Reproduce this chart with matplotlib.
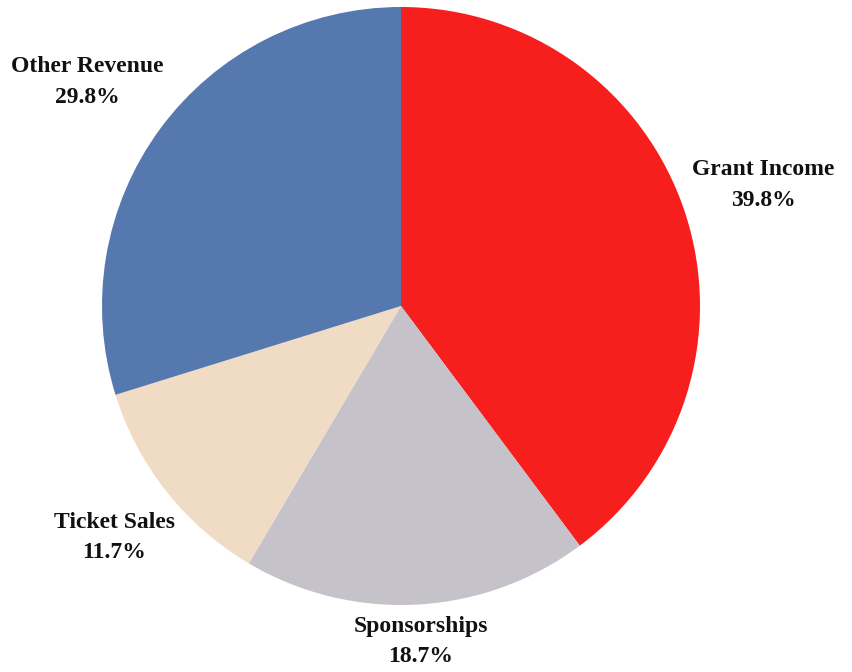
import numpy as np
import matplotlib.pyplot as plt

labels = ['Grant Income', 'Sponsorships', 'Ticket Sales', 'Other Revenue']
shares = [39.8, 18.7, 11.7, 29.8]
colors = ['#F71E1E', '#C6C2CA', '#F0DCC5', '#5578AE']

W, H = 853, 672
cx, cy, r = 401, 306, 299

fig = plt.figure(figsize=(W / 100, H / 100), dpi=100)
ax = fig.add_axes([0, 0, 1, 1])

wedges, _ = ax.pie(shares, colors=colors, startangle=90, counterclock=False,
                   radius=1, wedgeprops=dict(linewidth=0))

# pie() resets the limits, so set them afterwards
ax.set_aspect('auto')
ax.set_xlim(-cx / r, (W - cx) / r)
ax.set_ylim(-(H - cy) / r, cy / r)
ax.axis('off')

renderer = fig.canvas.get_renderer()
for w, lab, s in zip(wedges, labels, shares):
    mid = np.deg2rad((w.theta1 + w.theta2) / 2)
    c, sn = np.cos(mid), np.sin(mid)
    t = ax.annotate(f'{lab}\n{s:.1f}%', xy=(0.92 * c, 0.92 * sn),
                    xytext=(0, 0), textcoords='offset pixels',
                    ha='center', va='center', multialignment='center',
                    fontsize=17, fontweight='bold', family='Liberation Serif',
                    color='#111111', linespacing=1.6)
    bb = t.get_window_extent(renderer)
    hw = bb.width / 2
    # push the label outward so it clears the wedge
    t.set_position((1.5 * hw * c, 61 * np.clip(sn * 1.8, -1, 1)))

fig.savefig('out.png', dpi=100)
